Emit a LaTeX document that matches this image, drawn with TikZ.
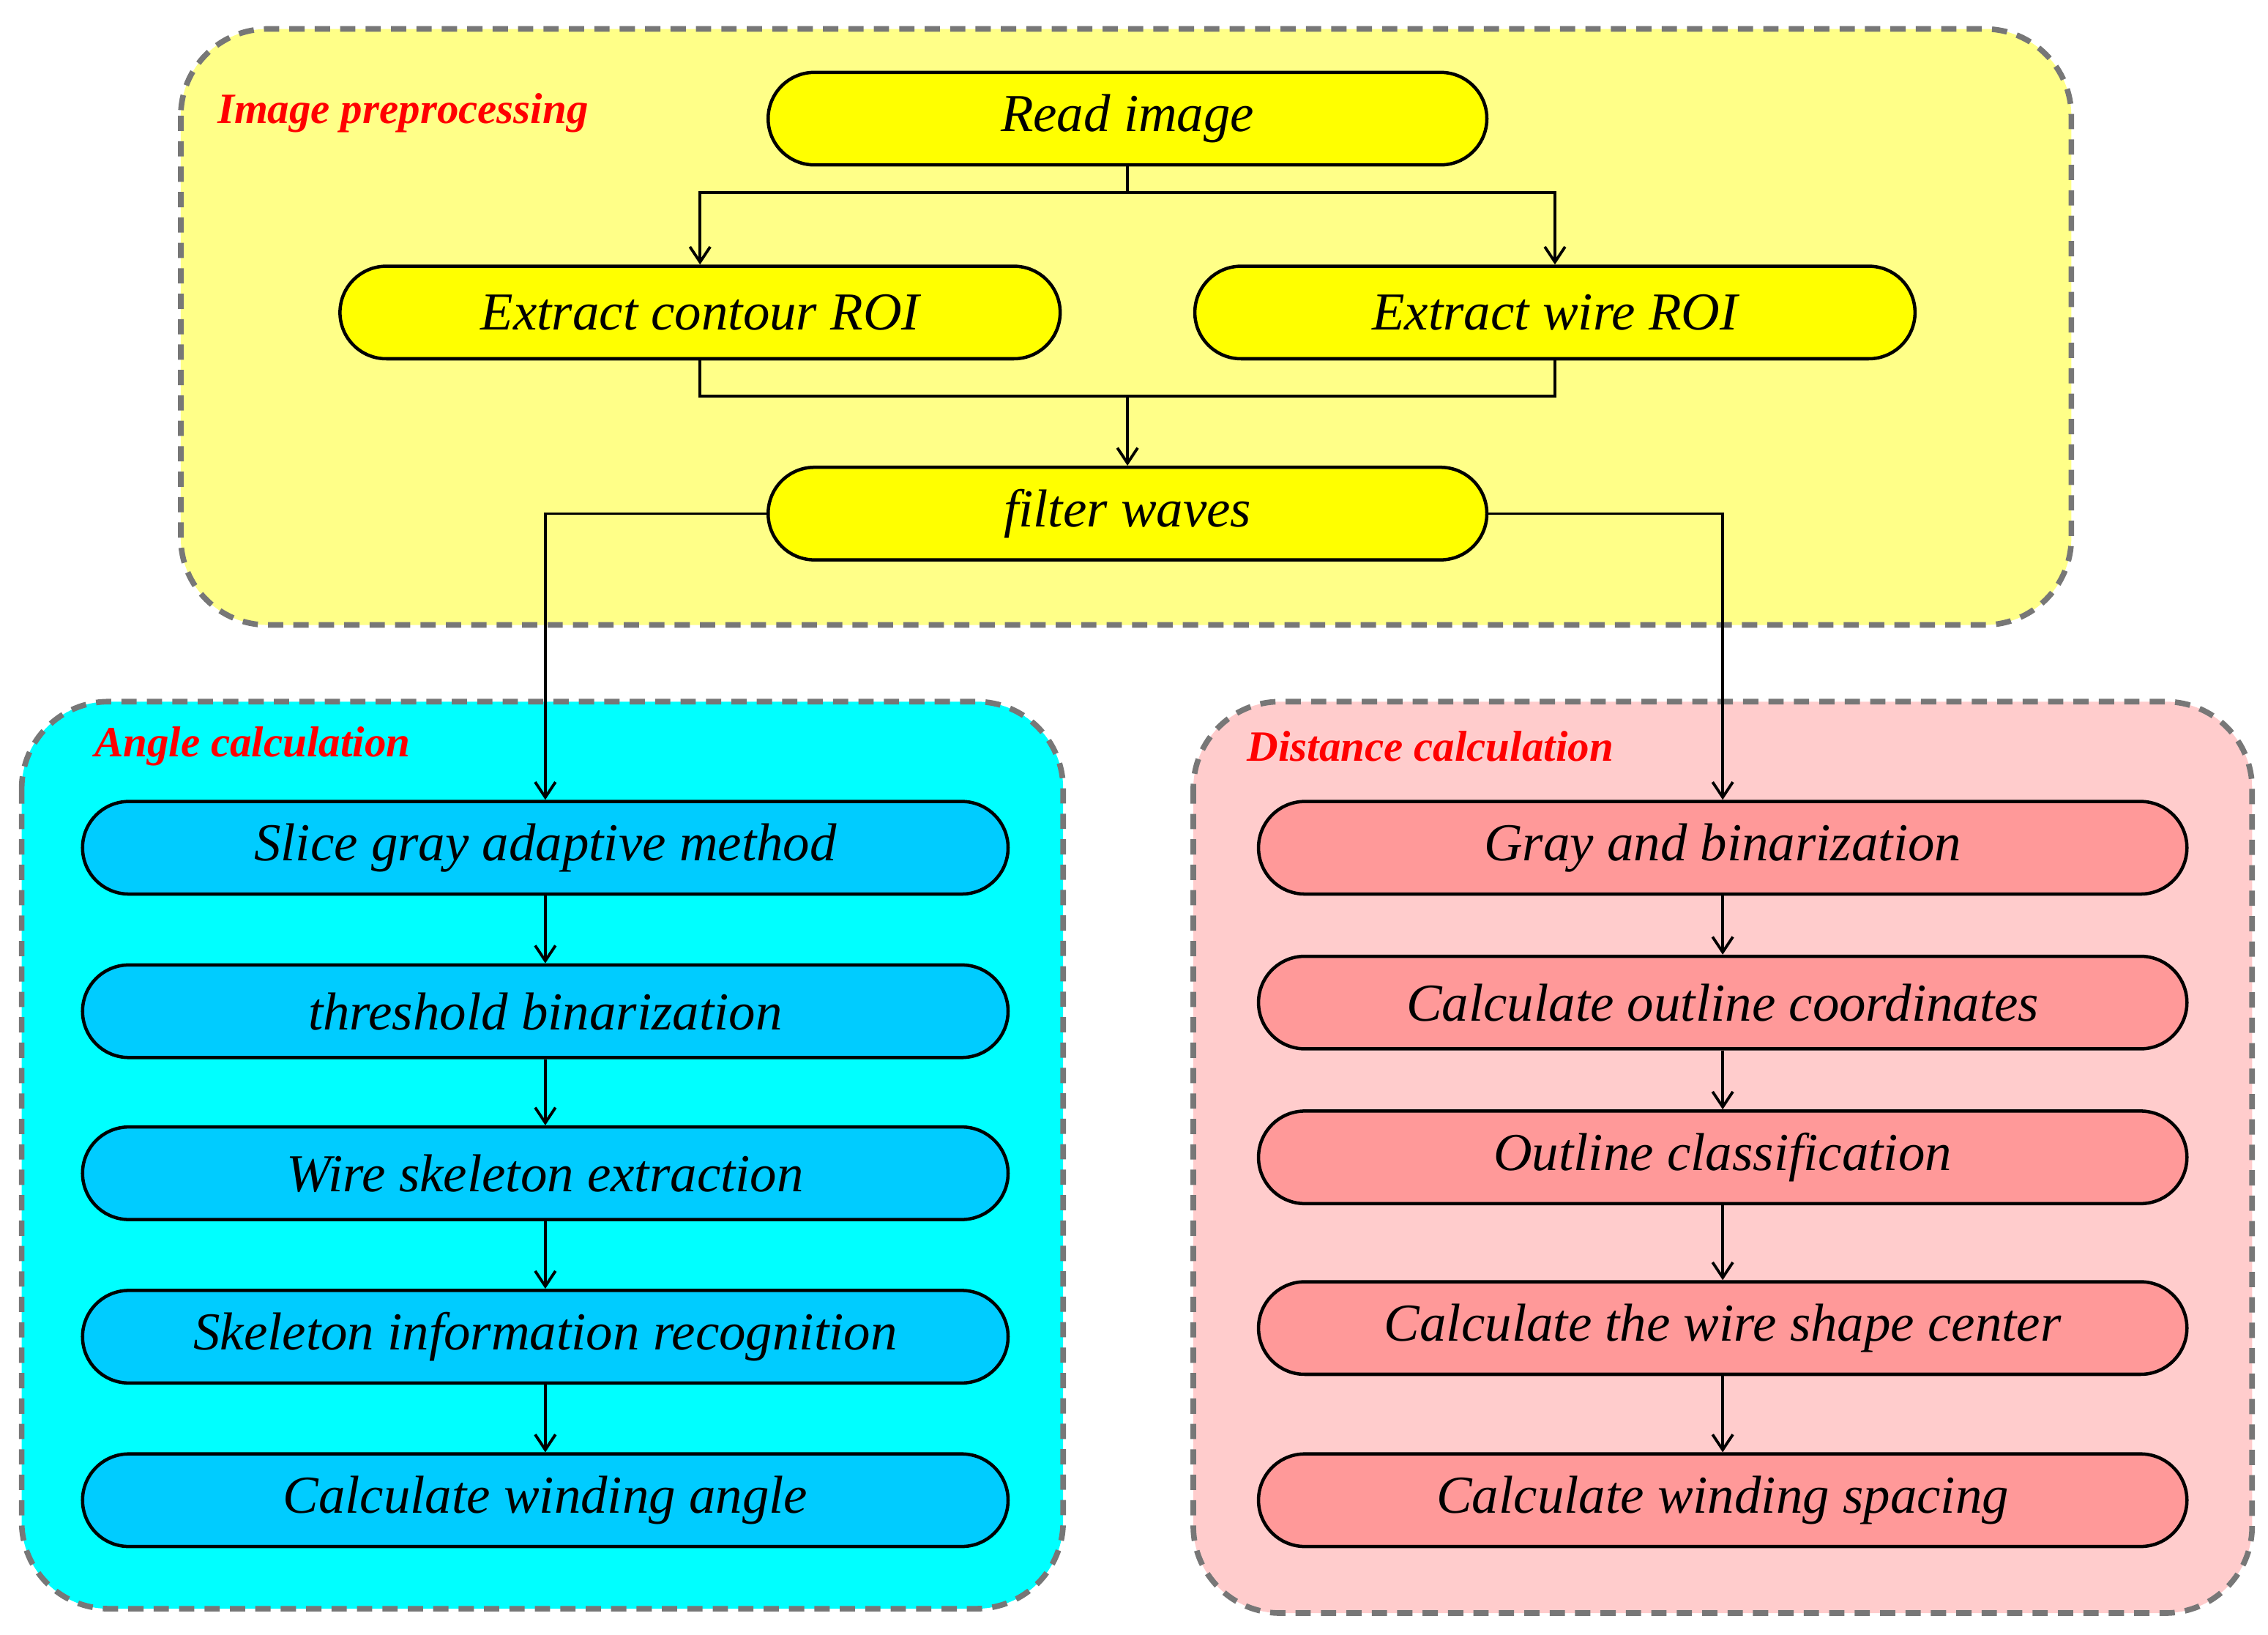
\documentclass[tikz,border=0pt]{standalone}
\usepackage{fontspec}
\setmainfont{Liberation Serif}
\usetikzlibrary{arrows.meta,calc}
\definecolor{gy}{HTML}{FFFF88}
\definecolor{gc}{HTML}{00FFFF}
\definecolor{gp}{HTML}{FFCCCC}
\definecolor{ny}{HTML}{FFFF00}
\definecolor{nb}{HTML}{00CCFF}
\definecolor{np}{HTML}{FF9999}
\definecolor{dg}{HTML}{777777}
\tikzset{
 grp/.style={draw=dg, line width=2.2pt, dash pattern=on 6pt off 4pt, rounded corners=1.2cm},
 pill/.style={draw=black, line width=1.3pt, rounded corners=0.64cm, minimum height=1.28cm, inner sep=0pt,
   font=\fontsize{21}{25}\selectfont\itshape},
 lab/.style={text=red, font=\fontsize{17}{20}\selectfont\bfseries\itshape, anchor=west, inner sep=0pt},
 ar/.style={-{Straight Barb[length=6pt,width=8pt]}, line width=1.1pt},
 ln/.style={line width=1.1pt}
}
\begin{document}
\begin{tikzpicture}[x=0.02cm,y=-0.02cm]
\useasboundingbox (0,0) rectangle (1568,1130);
% groups
\draw[grp, fill=gy] (125,20) rectangle (1432,432);
\draw[grp, fill=gc] (15,485) rectangle (735,1112);
\draw[grp, fill=gp] (825,485) rectangle (1557,1115);
\node[lab] (l1) at (150,78) {Image preprocessing};
\node[lab] (l2) at (65,516) {Angle calculation};
\node[lab] (l3) at (862,516) {Distance calculation};
% yellow nodes
\node[pill, fill=ny, minimum width=9.94cm] (r) at (779.5,82) {Read image};
\node[pill, fill=ny, minimum width=9.96cm] (ec) at (484,216) {Extract contour ROI};
\node[pill, fill=ny, minimum width=9.96cm] (ew) at (1075,216) {Extract wire ROI};
\node[pill, fill=ny, minimum width=9.94cm] (fw) at (779.5,355) {filter waves};
% blue
\foreach \n/\y/\t in {a1/586/Slice gray adaptive method, a2/699/threshold binarization, a3/811/Wire skeleton extraction, a4/924/Skeleton information recognition, a5/1037/Calculate winding angle}
  \node[pill, fill=nb, minimum width=12.8cm] (\n) at (377,\y) {\t};
% pink
\foreach \n/\y/\t in {d1/586/Gray and binarization, d2/693/Calculate outline coordinates, d3/800/Outline classification, d4/918/Calculate the wire shape center, d5/1037/Calculate winding spacing}
  \node[pill, fill=np, minimum width=12.84cm] (\n) at (1191,\y) {\t};
% connectors
\coordinate (s1) at (779.5,133);
\draw[ln] (r.south) -- (s1);
\draw[ar] (s1) -| (ec.north);
\draw[ar] (s1) -| (ew.north);
\coordinate (j) at (779.5,274);
\draw[ln] (ec.south) |- (j);
\draw[ln] (ew.south) |- (j);
\draw[ar] (j) -- (fw.north);
\draw[ar] (fw.west) -| (a1.north);
\draw[ar] (fw.east) -| (d1.north);
\foreach \p/\q in {a1/a2,a2/a3,a3/a4,a4/a5,d1/d2,d2/d3,d3/d4,d4/d5}
  \draw[ar] (\p.south) -- (\q.north);
\end{tikzpicture}
\end{document}
